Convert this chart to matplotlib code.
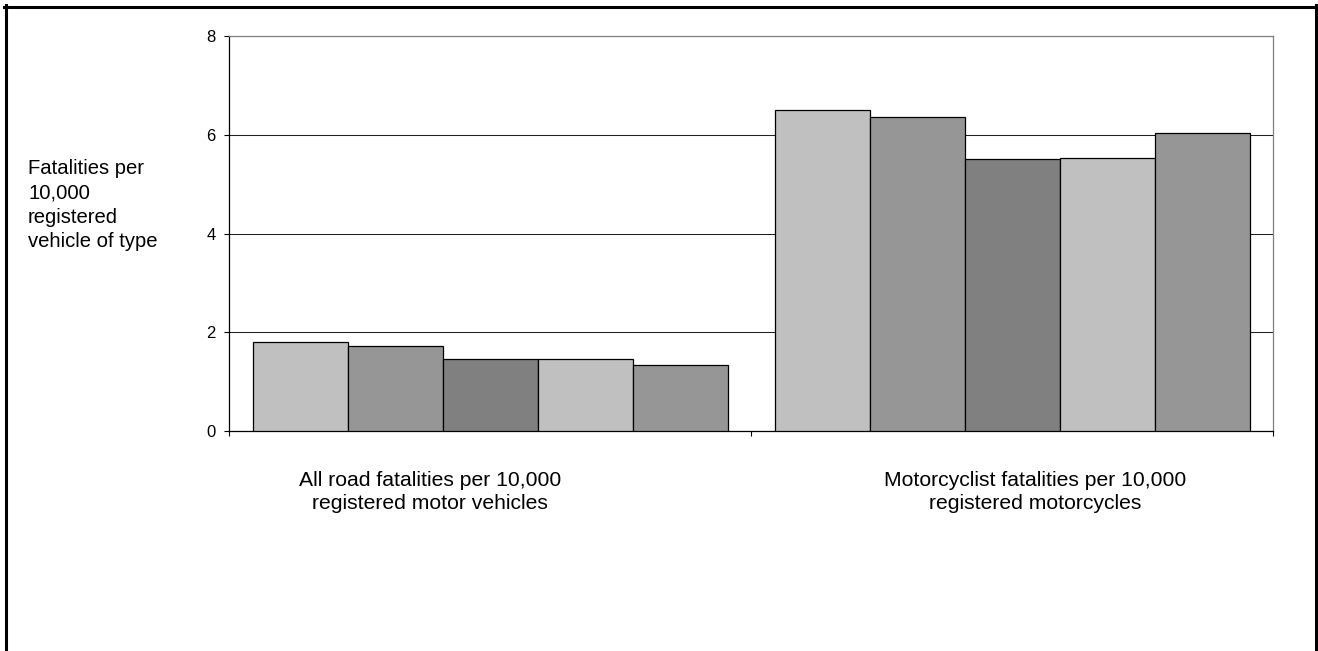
import matplotlib
matplotlib.use("Agg")
import matplotlib.pyplot as plt
import numpy as np
from matplotlib.lines import Line2D

plt.rcParams['font.family'] = ['Liberation Sans', 'DejaVu Sans']

# data
categories = ["All road fatalities per 10,000\nregistered motor vehicles",
              "Motorcyclist fatalities per 10,000\nregistered motorcycles"]
all_road = [1.80, 1.72, 1.45, 1.45, 1.33]
motorcyclist = [6.51, 6.36, 5.51, 5.53, 6.03]
bar_colors = ["#C0C0C0", "#969696", "#808080", "#C0C0C0", "#969696"]
y_ticks = [0, 2, 4, 6, 8]

W, H = 1318, 651
fig = plt.figure(figsize=(W / 100, H / 100), dpi=100)
ax = fig.add_axes([229 / W, 1 - 431 / H, (1273 - 229) / W, (431 - 36) / H])

n = len(all_road)
width = 95 / 522
x = np.arange(len(categories))
for i in range(n):
    vals = [all_road[i], motorcyclist[i]]
    ax.bar(x + (i - (n - 1) / 2) * width, vals, width=width,
           color=bar_colors[i], edgecolor="black", linewidth=0.9, zorder=3)

ax.set_xlim(-0.5, 1.5)
ax.set_ylim(0, 8)
ax.set_yticks(y_ticks)
ax.yaxis.grid(True, color="#202020", linewidth=0.75, zorder=0)
ax.tick_params(axis="y", direction="out", length=3.6, width=0.8, pad=6,
               labelsize=12)
ax.set_xticks([])
ax.set_xticks([-0.5, 0.5, 1.5], minor=True)
ax.tick_params(axis="x", which="minor", direction="out", length=3.5, width=0.8)

for side in ["left", "bottom"]:
    ax.spines[side].set_color("black")
    ax.spines[side].set_linewidth(0.9)
for side in ["top", "right"]:
    ax.spines[side].set_color("#808080")
    ax.spines[side].set_linewidth(0.9)

# category labels below the axis
label_x = [430, 1035]
for lx, txt in zip(label_x, categories):
    fig.text(lx / W, 1 - 471 / H, txt, ha="center", va="top",
             multialignment="center", fontsize=15.2, linespacing=1.27)

# y axis title
fig.text(28 / W, 1 - 205 / H, "Fatalities per\n10,000\nregistered\nvehicle of type",
         ha="left", va="center", fontsize=14.6, linespacing=1.37)

# frame around the chart (left, top, right)
lw = 2.2
fig.add_artist(Line2D([5.5 / W, 5.5 / W], [0, 1 - 5 / H], color="black", linewidth=lw))
fig.add_artist(Line2D([4 / W, 1316 / W], [1 - 6.5 / H, 1 - 6.5 / H], color="black", linewidth=lw))
fig.add_artist(Line2D([1315.5 / W, 1315.5 / W], [0, 1 - 5 / H], color="black", linewidth=lw))

fig.savefig("out.png", dpi=100)
